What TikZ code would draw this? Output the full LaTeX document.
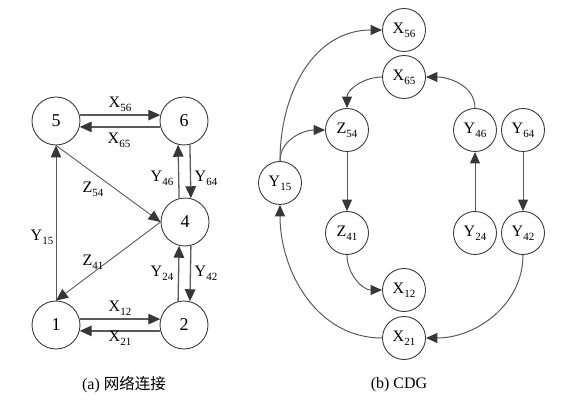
\documentclass[tikz,border=0pt]{standalone}
\usepackage{fontspec}
\setmainfont{Liberation Serif}
\newfontfamily\cjk{Noto Sans CJK SC}
\usetikzlibrary{arrows.meta}
\definecolor{linec}{RGB}{90,90,90}
\definecolor{tipc}{RGB}{55,55,55}
\definecolor{circc}{RGB}{60,60,60}
\newcommand\subl[2]{#1\raisebox{-0.5ex}{\fontsize{11}{11}\selectfont #2}}
\tikzset{
  bignode/.style={circle,draw=circc,line width=0.9pt,minimum size=48pt,inner sep=0pt,font=\fontsize{18}{18}\selectfont},
  cdgnode/.style={circle,draw=circc,line width=0.9pt,minimum size=43pt,inner sep=0pt,font=\fontsize{16}{16}\selectfont},
  lbl/.style={inner sep=0pt,font=\fontsize{16}{16}\selectfont},
  edge/.style={draw=linec,line width=1.3pt,-{Triangle[length=12pt,width=10.5pt,color=tipc]}},
  thin edge/.style={draw=linec,line width=0.9pt,-{Triangle[length=12pt,width=10.5pt,color=tipc]}},
  cdgedge/.style={draw=linec,line width=1pt,-{Triangle[length=11.5pt,width=10pt,color=tipc]}},
}
\begin{document}
\begin{tikzpicture}[x=1pt,y=-1pt]
\useasboundingbox (0,0) rectangle (562,403);
% ---- (a) network ----
\node[bignode] (n5) at (56,121) {5};
\node[bignode] (n6) at (184,121) {6};
\node[bignode] (n4) at (185,222) {4};
\node[bignode] (n1) at (56,325) {1};
\node[bignode] (n2) at (184,325) {2};
\draw[edge] (n5.14) -- (n6.166);
\draw[edge] (n6.194) -- (n5.346);
\draw[edge] (n4.104) -- (n6.256);
\draw[edge] (n6.284) -- (n4.76);
\draw[edge] (n2.104) -- (n4.256);
\draw[edge] (n4.284) -- (n2.76);
\draw[edge] (n1.14) -- (n2.166);
\draw[edge] (n2.194) -- (n1.346);
\draw[thin edge] (n1.north) -- (n5.south);
\draw[thin edge] (n5.south) -- (n4.west);
\draw[thin edge] (n4.west) -- (n1.north);
\node[lbl] (lx56) at (120,104) {\subl{X}{56}};
\node[lbl] (lx65) at (119,140) {\subl{X}{65}};
\node[lbl] (ly46) at (162,178) {\subl{Y}{46}};
\node[lbl] (ly64) at (206,178) {\subl{Y}{64}};
\node[lbl] (ly24) at (162,273) {\subl{Y}{24}};
\node[lbl] (ly42) at (206,273) {\subl{Y}{42}};
\node[lbl] (lx12) at (120,308) {\subl{X}{12}};
\node[lbl] (lx21) at (120,338) {\subl{X}{21}};
\node[lbl] (lz54) at (93,189) {\subl{Z}{54}};
\node[lbl] (lz41) at (93,262) {\subl{Z}{41}};
\node[lbl] (ly15) at (42,237) {\subl{Y}{15}};
\node[lbl] (capa) at (124,385) {(a) {\cjk\fontsize{15.5}{15.5}\selectfont 网络连接}};
% ---- (b) CDG ----
\node[cdgnode] (X56) at (404,30) {\subl{X}{56}};
\node[cdgnode] (X65) at (404,77) {\subl{X}{65}};
\node[cdgnode] (Z54) at (347,130) {\subl{Z}{54}};
\node[cdgnode] (Y46) at (475,130) {\subl{Y}{46}};
\node[cdgnode] (Y64) at (523,130) {\subl{Y}{64}};
\node[cdgnode] (Y15) at (280,183) {\subl{Y}{15}};
\node[cdgnode] (Z41) at (347,233) {\subl{Z}{41}};
\node[cdgnode] (Y24) at (475,233) {\subl{Y}{24}};
\node[cdgnode] (Y42) at (523,233) {\subl{Y}{42}};
\node[cdgnode] (X12) at (404,290) {\subl{X}{12}};
\node[cdgnode] (X21) at (404,338) {\subl{X}{21}};
\draw[cdgedge] (Y15.north) to[out=90,in=180,looseness=1.05] (X56.west);
\draw[cdgedge] (Y15.north) to[out=90,in=180] (Z54.west);
\draw[cdgedge] (X65.west) to[out=180,in=90] (Z54.north);
\draw[cdgedge] (Y46.north) to[out=90,in=0] (X65.east);
\draw[cdgedge] (Z54.south) -- (Z41.north);
\draw[cdgedge] (Y24.north) -- (Y46.south);
\draw[cdgedge] (Y64.south) -- (Y42.north);
\draw[cdgedge] (Z41.south) to[out=270,in=180] (X12.west);
\draw[cdgedge] (Y42.south) to[out=270,in=0] (X21.east);
\draw[cdgedge] (X21.west) to[out=180,in=270] (Y15.south);
\node[lbl] (capb) at (399,385) {(b) CDG};
\end{tikzpicture}
\end{document}
